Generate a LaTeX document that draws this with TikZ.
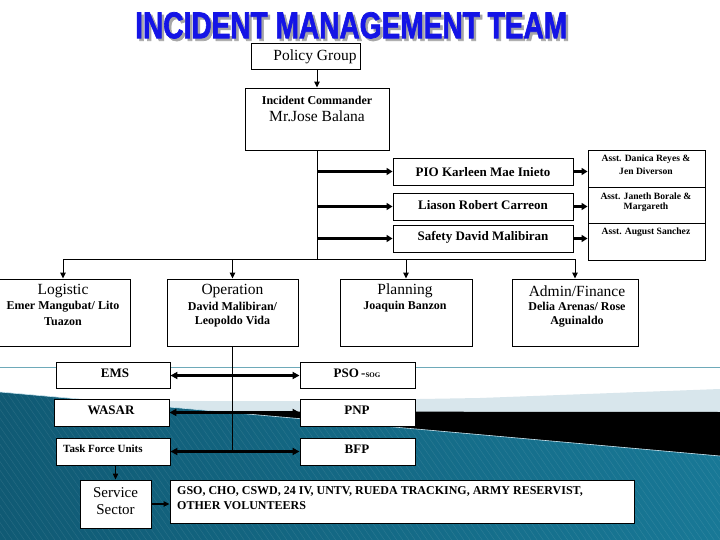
\documentclass[tikz,border=0pt]{standalone}
\usepackage{fontspec}
\usepackage{graphicx}
\setmainfont{Liberation Serif}
\newfontfamily\titlefont[FakeBold=2]{Liberation Sans Bold}
\usetikzlibrary{arrows.meta,patterns.meta}
\definecolor{titleblue}{RGB}{20,20,230}
\definecolor{tealdark}{RGB}{16,90,116}
\definecolor{tealmid}{RGB}{56,160,198}
\definecolor{tealright}{RGB}{24,120,150}
\definecolor{lightband}{RGB}{216,230,236}
\definecolor{thinline}{RGB}{110,170,185}
\newcommand{\imtitle}{\resizebox{432pt}{26pt}{\titlefont INCIDENT MANAGEMENT TEAM}}
\begin{document}
\begin{tikzpicture}[x=1pt,y=-1pt,
  box/.style={draw=black,line width=0.9pt,fill=white,inner sep=0pt},
  big/.style={inner sep=0pt,font=\fontsize{15.5}{17}\selectfont},
  med/.style={inner sep=0pt,font=\fontsize{12}{14}\selectfont\bfseries},
  staff/.style={inner sep=0pt,font=\fontsize{13}{15}\selectfont\bfseries},
  sml/.style={inner sep=0pt,font=\fontsize{9.6}{11}\selectfont\bfseries},
  unit/.style={inner sep=0pt,font=\fontsize{13}{15}\selectfont\bfseries},
  line/.style={line width=0.9pt},
  arr/.style={line width=1pt,-{Triangle[length=6pt,width=5.5pt]}},
  tharr/.style={line width=2.4pt,-{Triangle[length=6pt,width=7pt]}},
  dbl/.style={line width=2.2pt,{Triangle[length=7pt,width=7pt]}-{Triangle[length=7pt,width=7pt]}}
]
\useasboundingbox (0,0) rectangle (720,540);
% background
\fill[white] (0,0) rectangle (720,540);
\draw[thinline,line width=0.8pt] (0,367) -- (720,367);
\fill[lightband] (100,401) -- (300,401) -- (480,398) -- (720,389) -- (720,460) -- (100,410) -- cycle;
\fill[black] (212,411.5) -- (720,412) -- (720,460) -- cycle;
\shade[left color=tealdark,middle color=tealmid,right color=tealright] (0,392) -- (720,456) -- (720,540) -- (0,540) -- cycle;
\fill[pattern={Lines[angle=-55,distance=5pt,line width=0.5pt]},pattern color=white,opacity=0.09] (0,392) -- (720,456) -- (720,540) -- (0,540) -- cycle;
\draw[white!75!tealmid,line width=0.6pt] (0,392) -- (720,456);

% title (with shadow in the same node)
\node[inner sep=0pt,anchor=north west] (title) at (135,12) {\makebox[0pt][l]{\hspace*{2.5pt}\raisebox{-2.5pt}{\textcolor{black!35}{\imtitle}}}\textcolor{titleblue}{\imtitle}};

% top boxes
\node[box,minimum width=109pt,minimum height=26pt] (policy) at (305.5,56) {};
\node[big] (policyt) at (315,57) {Policy Group};
\node[box,minimum width=144pt,minimum height=62pt] (ic) at (317,119) {};
\node[inner sep=0pt,font=\fontsize{12}{14}\selectfont\bfseries] (ict1) at (317,100) {Incident Commander};
\node[big] (ict2) at (317,116.5) {Mr.Jose Balana};
\draw[arr] (policy.south -| ic.north) -- (ic.north);

% staff boxes
\node[box,minimum width=180pt,minimum height=27pt] (pio) at (483,171.5) {};
\node[staff] (piot) at (483,172) {PIO Karleen Mae Inieto};
\node[box,minimum width=180pt,minimum height=27pt] (liaison) at (483,206.5) {};
\node[staff] (liaisont) at (483,205) {Liason Robert Carreon};
\node[box,minimum width=180pt,minimum height=27pt] (safety) at (483,238.5) {};
\node[staff] (safetyt) at (483,237) {Safety David Malibiran};

% assistants
\node[box,minimum width=117pt,minimum height=37pt] (a1) at (646.5,168.5) {};
\node[box,minimum width=117pt,minimum height=36pt] (a2) at (646.5,205) {};
\node[box,minimum width=117pt,minimum height=37pt] (a3) at (646.5,241.5) {};
\node[sml] (a1t1) at (646,159.5) {Asst. Danica Reyes \&};
\node[sml] (a1t2) at (646,171.5) {Jen Diverson};
\node[sml] (a2t1) at (646,196) {Asst. Janeth Borale \&};
\node[sml] (a2t2) at (646,207) {Margareth};
\node[sml] (a3t1) at (646,232) {Asst. August Sanchez};

% trunk
\coordinate (busL) at (63,259);
\coordinate (busR) at (575,259);
\draw[line] (ic.south) -- (ic.south |- busL);
\draw[line] (busL) -- (busR);
\draw[tharr] (ic.south |- pio.west) -- (pio.west);
\draw[tharr] (ic.south |- liaison.west) -- (liaison.west);
\draw[tharr] (ic.south |- safety.west) -- (safety.west);
\draw[tharr] (pio.east) -- (pio.east -| a1.west);
\draw[tharr] (liaison.east) -- (liaison.east -| a2.west);
\draw[tharr] (safety.east) -- (safety.east -| a3.west);

% sections
\node[box,minimum width=131pt,minimum height=67pt] (log) at (65,312.5) {};
\node[box,minimum width=131pt,minimum height=67pt] (ops) at (232.5,312.5) {};
\node[box,minimum width=132pt,minimum height=67pt] (plan) at (406,312.5) {};
\node[box,minimum width=126pt,minimum height=67pt] (adm) at (575,312.5) {};
\draw[arr] (busL) -- (busL |- log.north);
\draw[arr] (busL -| ops.north) -- (ops.north);
\draw[arr] (busL -| plan.north) -- (plan.north);
\draw[arr] (busL -| adm.north) -- (adm.north);
\node[big] (logt1) at (63,291) {Logistic};
\node[med] (logt2) at (63,306.5) {Emer Mangubat/ Lito};
\node[med] (logt3) at (63,321.5) {Tuazon};
\node[big] (opst1) at (232.5,291) {Operation};
\node[med] (opst2) at (232.5,306.5) {David Malibiran/};
\node[med] (opst3) at (232.5,321.5) {Leopoldo Vida};
\node[big] (plant1) at (405,291) {Planning};
\node[med] (plant2) at (405,306.5) {Joaquin Banzon};
\node[big] (admt1) at (577,291) {Admin/Finance};
\node[med] (admt2) at (577,306.5) {Delia Arenas/ Rose};
\node[med] (admt3) at (577,321.5) {Aguinaldo};

% operations units
\node[box,minimum width=114pt,minimum height=26pt] (ems) at (113,375.5) {};
\node[box,minimum width=115pt,minimum height=27pt] (wasar) at (111.5,412.5) {};
\node[box,minimum width=114pt,minimum height=27pt] (tfu) at (113,451.5) {};
\node[box,minimum width=115pt,minimum height=26pt] (pso) at (357.5,375.5) {};
\node[box,minimum width=115pt,minimum height=27pt] (pnp) at (357.5,412.5) {};
\node[box,minimum width=115pt,minimum height=27pt] (bfp) at (357.5,451.5) {};
\node[unit] (emst) at (115,373) {EMS};
\node[unit] (wasart) at (111,410.5) {WASAR};
\node[inner sep=0pt,font=\fontsize{11}{13}\selectfont\bfseries,anchor=west] (tfut) at (63,448.5) {Task Force Units};
\node[unit] (psot) at (357,373) {PSO\,-{\fontsize{7}{8}\selectfont SOG}};
\node[unit] (pnpt) at (357,410.5) {PNP};
\node[unit] (bfpt) at (357,449) {BFP};
\draw[line] (ops.south) -- (ops.south |- tfu.east);
\draw[dbl] (ems.east) -- (pso.west);
\draw[dbl] (wasar.east) -- (pnp.west);
\draw[dbl] (tfu.east) -- (bfp.west);

% service sector
\node[box,minimum width=71pt,minimum height=48pt] (svc) at (115.5,504) {};
\node[inner sep=0pt,font=\fontsize{15}{17}\selectfont] (svct1) at (115.5,492.5) {Service};
\node[inner sep=0pt,font=\fontsize{15}{17}\selectfont] (svct2) at (115.5,509.5) {Sector};
\node[box,minimum width=464pt,minimum height=43pt] (gso) at (402,501.5) {};
\node[med,anchor=west] (gsot1) at (177,491) {GSO, CHO, CSWD, 24 IV, UNTV, RUEDA TRACKING, ARMY RESERVIST,};
\node[med,anchor=west] (gsot2) at (177,505.5) {OTHER VOLUNTEERS};
\draw[arr] (tfu.south -| svc.north) -- (svc.north);
\draw[arr,line width=1.4pt] (svc.east) -- (svc.east -| gso.west);
\end{tikzpicture}
\end{document}
